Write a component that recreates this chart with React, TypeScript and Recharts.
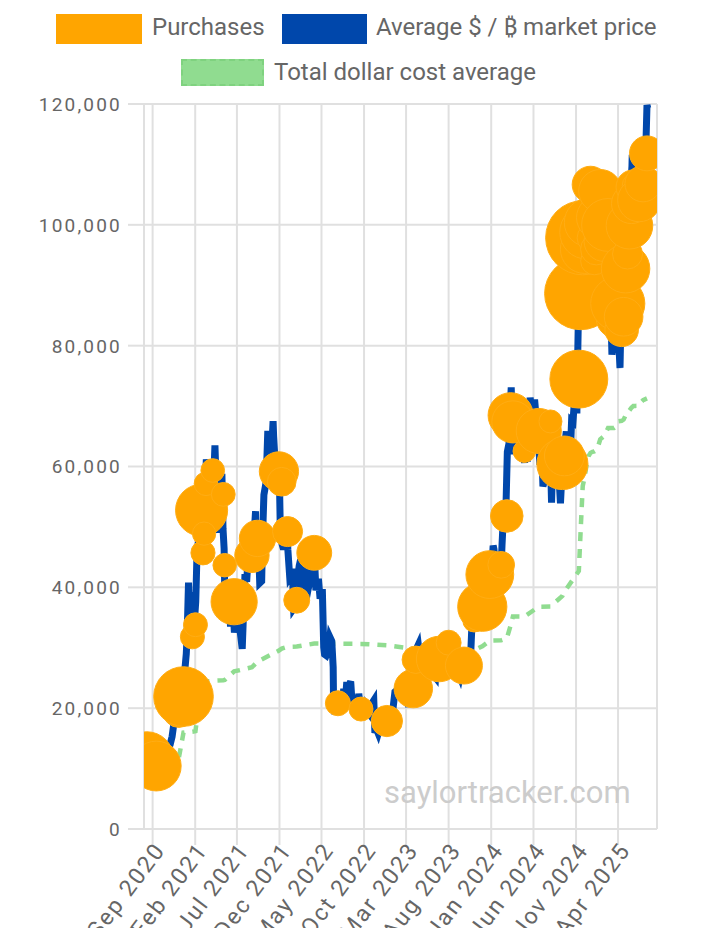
import React from 'react';
import { ComposedChart, Line, Scatter, XAxis, YAxis, CartesianGrid } from 'recharts';

// ---- Bitcoin market price (approximate closes) ----
const priceDates = [
  '2020-08-01','2020-08-08','2020-08-17','2020-08-24','2020-08-31','2020-09-05','2020-09-13','2020-09-18','2020-09-23','2020-09-30',
  '2020-10-08','2020-10-15','2020-10-21','2020-10-27','2020-11-03','2020-11-10','2020-11-17','2020-11-24','2020-11-26','2020-11-30',
  '2020-12-07','2020-12-11','2020-12-16','2020-12-21','2020-12-26','2020-12-31',
  '2021-01-03','2021-01-08','2021-01-11','2021-01-14','2021-01-21','2021-01-26','2021-01-29','2021-02-03','2021-02-08','2021-02-12',
  '2021-02-16','2021-02-21','2021-02-23','2021-02-28','2021-03-05','2021-03-13','2021-03-17','2021-03-25','2021-03-31','2021-04-07',
  '2021-04-13','2021-04-18','2021-04-25','2021-04-29','2021-05-03','2021-05-08','2021-05-12','2021-05-16','2021-05-19','2021-05-21',
  '2021-05-23','2021-05-26','2021-05-31','2021-06-04','2021-06-08','2021-06-14','2021-06-18','2021-06-22','2021-06-27','2021-07-03',
  '2021-07-10','2021-07-15','2021-07-20','2021-07-26','2021-07-30','2021-08-05','2021-08-14','2021-08-20','2021-08-27','2021-09-01',
  '2021-09-06','2021-09-07','2021-09-13','2021-09-16','2021-09-21','2021-09-28','2021-10-01','2021-10-06','2021-10-14','2021-10-20',
  '2021-10-24','2021-10-27','2021-11-01','2021-11-08','2021-11-10','2021-11-16','2021-11-18','2021-11-24','2021-11-28','2021-12-01',
  '2021-12-04','2021-12-10','2021-12-13','2021-12-20','2021-12-27','2021-12-31',
  '2022-01-07','2022-01-10','2022-01-16','2022-01-21','2022-01-24','2022-01-30','2022-02-04','2022-02-10','2022-02-15','2022-02-22',
  '2022-02-24','2022-03-02','2022-03-07','2022-03-14','2022-03-21','2022-03-28','2022-04-04','2022-04-11','2022-04-20','2022-04-26',
  '2022-05-04','2022-05-09','2022-05-12','2022-05-18','2022-05-25','2022-05-31','2022-06-07','2022-06-12','2022-06-13','2022-06-18',
  '2022-06-24','2022-06-30','2022-07-08','2022-07-13','2022-07-20','2022-07-26','2022-07-30','2022-08-08','2022-08-14','2022-08-19',
  '2022-08-26','2022-09-06','2022-09-12','2022-09-19','2022-09-27','2022-10-05','2022-10-13','2022-10-20','2022-10-29','2022-11-05',
  '2022-11-09','2022-11-14','2022-11-21','2022-11-30','2022-12-07','2022-12-14','2022-12-20','2022-12-30',
  '2023-01-07','2023-01-13','2023-01-20','2023-01-28','2023-02-02','2023-02-09','2023-02-15','2023-02-21','2023-03-03','2023-03-10',
  '2023-03-14','2023-03-19','2023-03-27','2023-04-03','2023-04-11','2023-04-14','2023-04-20','2023-04-27','2023-05-06','2023-05-12',
  '2023-05-20','2023-05-29','2023-06-05','2023-06-15','2023-06-21','2023-06-29','2023-07-06','2023-07-13','2023-07-21','2023-07-30',
  '2023-08-08','2023-08-17','2023-08-28','2023-08-29','2023-09-06','2023-09-11','2023-09-18','2023-09-28','2023-10-05','2023-10-12',
  '2023-10-20','2023-10-24','2023-11-01','2023-11-09','2023-11-15','2023-11-24','2023-12-02','2023-12-05','2023-12-11','2023-12-18',
  '2023-12-27',
  '2024-01-03','2024-01-08','2024-01-11','2024-01-18','2024-01-23','2024-01-29','2024-02-05','2024-02-09','2024-02-14','2024-02-22',
  '2024-02-28','2024-03-05','2024-03-08','2024-03-13','2024-03-19','2024-03-25','2024-04-01','2024-04-08','2024-04-13','2024-04-20',
  '2024-04-30','2024-05-05','2024-05-10','2024-05-20','2024-05-27','2024-06-05','2024-06-12','2024-06-18','2024-06-24','2024-07-01',
  '2024-07-05','2024-07-12','2024-07-16','2024-07-21','2024-07-29','2024-08-05','2024-08-09','2024-08-16','2024-08-24','2024-08-31',
  '2024-09-06','2024-09-13','2024-09-20','2024-09-27','2024-10-03','2024-10-10','2024-10-16','2024-10-21','2024-10-29','2024-11-04',
  '2024-11-06','2024-11-11','2024-11-13','2024-11-17','2024-11-22','2024-11-26','2024-12-05','2024-12-10','2024-12-17','2024-12-19',
  '2024-12-26','2024-12-30',
  '2025-01-06','2025-01-09','2025-01-13','2025-01-20','2025-01-22','2025-01-27','2025-02-02','2025-02-06','2025-02-12','2025-02-20',
  '2025-02-25','2025-02-28','2025-03-02','2025-03-10','2025-03-17','2025-03-24','2025-03-30','2025-04-06','2025-04-08','2025-04-12',
  '2025-04-21','2025-04-25','2025-05-01','2025-05-08','2025-05-12','2025-05-21','2025-05-22','2025-05-30','2025-06-05','2025-06-10',
  '2025-06-17','2025-06-22','2025-06-25','2025-07-01','2025-07-09','2025-07-14','2025-07-17',
];
const priceValues = [
  11800,11600,12200,11750,11700,10200,10350,11100,10250,10800,
  10900,11450,12800,13650,14000,15300,17650,19150,17100,19700,
  19200,18000,21300,22800,26400,29000,
  32100,40800,35600,39200,30800,32400,34300,37600,46400,47200,
  49200,57500,48800,45100,48800,61200,58900,51700,58900,56000,
  63500,56200,49000,53600,57200,58800,49700,46400,37000,37300,
  34700,39300,37300,36900,33500,40500,35800,32500,34700,34700,
  33800,31800,29800,37300,42200,40900,47800,49300,49000,48800,
  52600,46800,44900,47700,40700,41000,48200,55300,57400,65900,
  61300,58500,61000,67500,65000,60100,56900,57100,57800,57200,
  49400,47200,46700,46700,50600,46300,
  41600,41800,43100,36500,36700,37900,41500,43600,44600,38400,
  38300,44400,38000,39700,41100,47400,46600,39500,41400,38100,
  39700,30100,28900,28700,29500,31800,31100,26800,22500,19000,
  21200,19800,21600,20200,23200,21300,23800,23800,24400,20800,
  20200,18800,22400,19500,19100,20300,19400,19000,20800,21300,
  15900,16600,15800,17200,16800,17800,16900,16600,
  16900,19900,22700,23000,23700,21800,24300,24500,22400,20200,
  24700,28000,27100,28100,30200,30500,28200,29500,28900,26800,
  26900,27700,25700,25100,30000,30400,29900,31400,29900,29300,
  29800,26600,26100,27700,25800,25200,26800,27000,27400,26800,
  29700,34000,35400,36700,37900,37700,39400,44000,41200,42600,
  43400,
  42800,46900,46300,41300,39500,43300,42700,47100,51800,51300,
  62400,63800,68300,73100,62000,70000,69700,71600,63900,64900,
  60600,64000,60800,71400,68500,71100,67300,65100,60300,62700,
  56700,57900,65100,68200,66800,54000,60900,59000,64200,58900,
  53900,60500,63200,65800,60600,60300,67600,67400,72700,68800,
  75900,88700,90500,90600,98900,91900,96900,96600,106100,97500,
  95800,92700,
  102000,92500,94500,102000,104000,102000,97700,96600,97900,98300,
  88700,84400,94200,78500,84000,87500,82300,78200,76300,85300,
  87500,94700,96500,103000,102800,109700,111600,103900,101500,110300,
  104600,101000,107300,105700,111300,119800,119300,
];

// ---- Purchases ----
const purchaseDates = [
  '2020-08-11','2020-09-14','2020-12-04','2020-12-21','2021-01-22','2021-02-02','2021-02-24','2021-03-01','2021-03-05','2021-03-12',
  '2021-04-05','2021-05-13','2021-05-18','2021-06-21','2021-08-24','2021-09-13','2021-11-29','2021-12-09','2021-12-30','2022-02-01',
  '2022-04-05','2022-06-29','2022-09-20','2022-12-22','2023-03-27','2023-04-05','2023-06-28','2023-08-01','2023-09-25','2023-11-01',
  '2023-11-30','2023-12-27','2024-02-06','2024-02-26','2024-03-11','2024-03-19','2024-04-29','2024-06-20','2024-08-01','2024-09-13',
  '2024-09-20','2024-11-11','2024-11-18','2024-11-25','2024-12-02','2024-12-09','2024-12-16','2024-12-23','2024-12-30','2025-01-06',
  '2025-01-13','2025-01-21','2025-01-27','2025-02-10','2025-02-24','2025-03-17','2025-03-24','2025-03-31','2025-04-14','2025-04-21',
  '2025-04-28','2025-05-05','2025-05-12','2025-05-19','2025-05-26','2025-06-02','2025-06-09','2025-06-16','2025-06-23','2025-06-30',
  '2025-07-14',
];
const purchasePrices = [
  11653,10419,19427,21925,31808,33808,52765,45710,48888,57146,
  59339,55387,43663,37617,45294,48099,59187,57477,49229,37865,
  45714,20817,19851,17871,23238,28016,28136,30835,27053,34500,
  36785,42110,43723,51813,68477,67382,62535,65883,67455,60408,
  61750,74463,88627,97862,95976,98783,100386,106662,97837,94004,
  95972,101191,105596,97255,99979,82981,84529,86969,82618,84785,
  92737,95167,99856,103498,106237,106495,105426,104080,105856,106801,
  111827,
];
const purchaseBtc = [
  21454,16796,2574,29646,314,295,19452,328,205,262,
  253,271,229,13005,3907,5050,7002,1434,1914,660,
  4167,480,301,2395,6455,1045,12333,467,5445,155,
  16130,14620,850,3000,12000,9245,122,11931,169,18300,
  7420,27200,51780,55500,15400,21550,15350,5262,2138,1070,
  2530,11000,10107,7633,20356,130,6911,22048,3459,6556,
  15355,1895,13390,7390,4020,705,1045,10100,245,4980,
  4225,
];
// ---- Total dollar cost average after each purchase ----
const dcaValues = [
  11653,11111,11690,15964,16109,16205,24214,24290,24340,24430,
  24520,24610,24660,26080,26769,27713,29534,29861,30159,30200,
  30700,30664,30639,30397,29817,29803,29668,29672,29582,29586,
  30252,31168,31224,31544,33706,35160,35150,36798,36821,38585,
  39266,42692,49874,56761,58263,60324,61725,62257,62428,62503,
  62691,63610,64511,65033,66357,66360,66608,67458,67556,67766,
  68459,68550,69287,69726,70023,70033,70040,70666,70678,70982,
  71268,
];

const xTickDates = ['2020-09-01','2021-02-01','2021-07-01','2021-12-01','2022-05-01','2022-10-01','2023-03-01','2023-08-01','2024-01-01','2024-06-01','2024-11-01','2025-04-01'];
const xTickLabels = ['Sep 2020','Feb 2021','Jul 2021','Dec 2021','May 2022','Oct 2022','Mar 2023','Aug 2023','Jan 2024','Jun 2024','Nov 2024','Apr 2025'];
const yTicks = [0, 20000, 40000, 60000, 80000, 100000, 120000];

const toT = (s: string) => {
  const [y, m, d] = s.split('-').map(Number);
  return Date.UTC(y, m - 1, d);
};

const priceData = priceDates.map((d, i) => ({ t: toT(d), y: priceValues[i] }));
const purchaseData = purchaseDates.map((d, i) => ({ t: toT(d), y: purchasePrices[i], btc: purchaseBtc[i] }));
const dcaData = purchaseDates.map((d, i) => ({ t: toT(d), y: dcaValues[i] }));
const xTicks = xTickDates.map(toT);
const labelFor = (t: number) => xTickLabels[xTicks.indexOf(t)] ?? '';

const FONT = 'Roboto, "Noto Sans", sans-serif';
const TEXT = '#666666';
const GRID = '#e0e0e0';

const bubbleRadius = (btc: number) => 10 + 0.115 * Math.sqrt(btc);

const Bubble = (props: any) => {
  const { cx, cy, payload } = props;
  if (cx == null || cy == null) return null;
  return <circle cx={cx} cy={cy} r={bubbleRadius(payload.btc)} fill="#FFA500" stroke="#FFAD14" strokeWidth={1} />;
};

const YTick = (props: any) => {
  const { x, y, payload } = props;
  return (
    <text x={x} y={y} dy="0.36em" textAnchor="end" fill={TEXT} fontSize={19} fontFamily={FONT} style={{ letterSpacing: '2.2px' }}>
      {Number(payload.value).toLocaleString('en-US')}
    </text>
  );
};

const XTick = (props: any) => {
  const { x, y, payload } = props;
  return (
    <g transform={`translate(${x + 8},${y - 1})`}>
      <text x={0} y={0} dy="0.3em" textAnchor="end" transform="rotate(-53)" fill={TEXT} fontSize={23} fontFamily={FONT} style={{ letterSpacing: '2px' }}>
        {labelFor(payload.value)}
      </text>
    </g>
  );
};

const legendText: React.CSSProperties = {
  position: 'absolute',
  fontFamily: FONT,
  fontSize: 24,
  lineHeight: '24px',
  color: TEXT,
  whiteSpace: 'nowrap',
};

export default function App() {
  return (
    <div style={{ position: 'absolute', left: 0, top: 0, width: 718, height: 928, background: '#ffffff', overflow: 'hidden' }}>
      <ComposedChart
        width={718}
        height={928}
        margin={{ top: 104, right: 61, bottom: 0, left: 0 }}
      >
        <CartesianGrid stroke={GRID} strokeWidth={2} />
        <XAxis
          dataKey="t"
          type="number"
          scale="time"
          domain={[toT('2020-08-01'), toT('2025-08-19')]}
          ticks={xTicks}
          interval={0}
          height={99}
          tickSize={16}
          tickMargin={2}
          tickLine={{ stroke: GRID, strokeWidth: 2 }}
          axisLine={{ stroke: GRID, strokeWidth: 2 }}
          tick={<XTick />}
          allowDataOverflow
        />
        <YAxis
          dataKey="y"
          type="number"
          domain={[0, 120000]}
          ticks={yTicks}
          interval={0}
          width={144}
          tickSize={16}
          tickMargin={6}
          tickLine={{ stroke: GRID, strokeWidth: 2 }}
          axisLine={{ stroke: GRID, strokeWidth: 2 }}
          tick={<YTick />}
          allowDataOverflow
        />
        <Line
          data={dcaData}
          dataKey="y"
          type="linear"
          stroke="#90DC90"
          strokeWidth={4.5}
          strokeDasharray="9 8"
          dot={false}
          activeDot={false}
          isAnimationActive={false}
        />
        <Line
          data={priceData}
          dataKey="y"
          type="linear"
          stroke="#0047AB"
          strokeWidth={7}
          strokeLinejoin="miter"
          dot={false}
          activeDot={false}
          isAnimationActive={false}
        />
        <Scatter data={purchaseData} dataKey="y" shape={<Bubble />} isAnimationActive={false} />
      </ComposedChart>

      {/* Legend */}
      <div style={{ position: 'absolute', left: 56, top: 14, width: 86, height: 30, background: '#FFA500' }} />
      <div style={{ ...legendText, left: 152, top: 15 }}>Purchases</div>
      <div style={{ position: 'absolute', left: 282, top: 14, width: 85, height: 30, background: '#0047AB' }} />
      <div style={{ ...legendText, left: 376, top: 15 }}>Average $ / ₿ market price</div>
      <div style={{ position: 'absolute', left: 181, top: 59, width: 79, height: 23, background: '#90DC90', border: '2px dashed #7fd27f' }} />
      <div style={{ ...legendText, left: 274, top: 60 }}>Total dollar cost average</div>

      {/* Watermark */}
      <div style={{ position: 'absolute', left: 384, top: 777, fontFamily: FONT, fontSize: 31, lineHeight: '31px', color: '#cccccc', whiteSpace: 'nowrap' }}>
        saylortracker.com
      </div>
    </div>
  );
}
